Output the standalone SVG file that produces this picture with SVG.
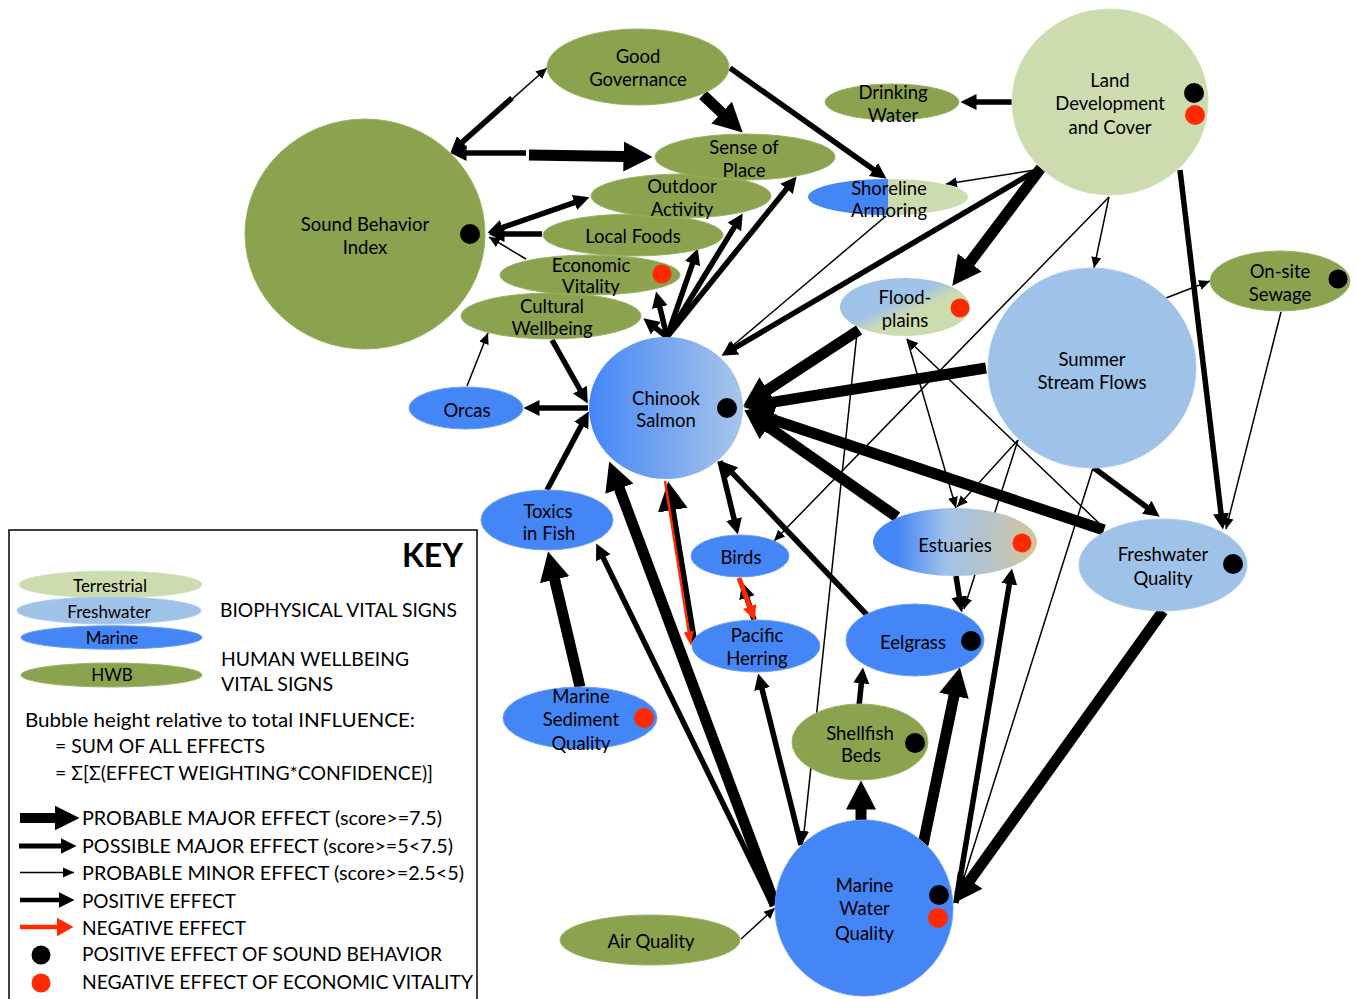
<svg xmlns="http://www.w3.org/2000/svg" width="1356" height="999" viewBox="0 0 1356 999">
<defs>
<style>
text { font-family: Lato, "Open Sans", "DejaVu Sans", sans-serif; fill: #000; }
.n { font-size: 18.5px; text-anchor: middle; }
.k { font-size: 19.5px; }
.kc { font-size: 17px; text-anchor: middle; }
.hwb { fill: #8ba24f; stroke: #9cb265; stroke-width: 1; }
.ter { fill: #cddcaf; stroke: #d6e2bd; stroke-width: 1; }
.fw { fill: #9fc2e8; stroke: #afcdee; stroke-width: 1; }
.mar { fill: #4586f7; stroke: #6c9ef0; stroke-width: 1; }
.db { fill: #000; }
.dr { fill: #ff2a00; }
.tn { stroke: #000; stroke-width: 1.5; fill: none; marker-end: url(#hT); }
.md { stroke: #000; stroke-width: 5.5; fill: none; marker-end: url(#hM); }
.mj { stroke: #000; stroke-width: 11; fill: none; marker-end: url(#hJ); }
</style>
<marker id="hT" markerUnits="userSpaceOnUse" markerWidth="12" markerHeight="12" viewBox="0 -6 12 12" refX="11" refY="0" orient="auto"><path d="M0,-5 L11,0 L0,5 z" fill="#000"/></marker>
<marker id="hM" markerUnits="userSpaceOnUse" markerWidth="17" markerHeight="18" viewBox="0 -9 17 18" refX="0.5" refY="0" orient="auto-start-reverse"><path d="M0,-8 L16,0 L0,8 z" fill="#000"/></marker>
<marker id="hJ" markerUnits="userSpaceOnUse" markerWidth="30" markerHeight="32" viewBox="0 -16 30 32" refX="0.5" refY="0" orient="auto"><path d="M0,-15 L29,0 L0,15 z" fill="#000"/></marker>
<marker id="hK" markerUnits="userSpaceOnUse" markerWidth="26" markerHeight="26" viewBox="0 -13 26 26" refX="0.5" refY="0" orient="auto"><path d="M0,-12.5 L25,0 L0,12.5 z" fill="#000"/></marker>
<marker id="rS" markerUnits="userSpaceOnUse" markerWidth="15" markerHeight="12" viewBox="0 -6 15 12" refX="0.5" refY="0" orient="auto"><path d="M0,-5 L14,0 L0,5 z" fill="#ff2a00"/></marker>
<marker id="rM" markerUnits="userSpaceOnUse" markerWidth="16" markerHeight="16" viewBox="0 -8 16 16" refX="0.5" refY="0" orient="auto"><path d="M0,-7 L15,0 L0,7 z" fill="#ff2a00"/></marker>
<marker id="rL" markerUnits="userSpaceOnUse" markerWidth="18" markerHeight="20" viewBox="0 -10 18 20" refX="0.5" refY="0" orient="auto"><path d="M0,-9.5 L17,0 L0,9.5 z" fill="#ff2a00"/></marker>
<linearGradient id="gChinook" x1="0" y1="0" x2="1" y2="0">
<stop offset="0" stop-color="#4586f7"/><stop offset="1" stop-color="#a8c6ea"/>
</linearGradient>
<linearGradient id="gEst" x1="0" y1="0" x2="1" y2="0">
<stop offset="0.15" stop-color="#4586f7"/><stop offset="0.45" stop-color="#a2c2e8"/><stop offset="0.72" stop-color="#b8c3c8"/><stop offset="1" stop-color="#d6c59a"/>
</linearGradient>
<linearGradient id="gFlood" x1="0.25" y1="0.2" x2="0.8" y2="0.75">
<stop offset="0.35" stop-color="#9fc2e8"/><stop offset="0.65" stop-color="#cddcaf"/>
</linearGradient>
<linearGradient id="gShore" x1="0" y1="0" x2="1" y2="0">
<stop offset="0.5" stop-color="#4586f7"/><stop offset="0.5" stop-color="#cddcaf"/>
</linearGradient>
</defs>
<rect width="1356" height="999" fill="#fff"/>

<g id="connectors">
<path class="tn" d="M455,150 L547,68"/>
<path class="tn" d="M526,259 L489,237"/>
<path class="tn" d="M467,386 L488,333"/>
<path class="tn" d="M886,216 L724,353"/>
<path class="tn" d="M1035,170 L946,184"/>
<path class="tn" d="M1109,197 L1094,268"/>
<path class="tn" d="M1109,197 L774,541"/>
<path class="tn" d="M1166,298 L1210,281"/>
<path class="tn" d="M1281,312 L1226,529"/>
<path class="tn" d="M907,339 L956,508"/>
<path class="tn" d="M1102,526 L907,339"/>
<path class="tn" d="M1018,440 L957,507"/>
<path class="tn" d="M1018,440 L964,609"/>
<path class="tn" d="M857,333 L803,842"/>
<path class="tn" d="M1093,468 L956,903"/>
<path class="tn" d="M741,939 L775,908"/>

<path class="md" d="M512,98 L462,142.4"/>
<path class="md" d="M526,153 L466,153"/>
<path class="md" d="M730,68 L873.9,169.8"/>
<path class="md" d="M502.1,227.7 L574.9,202.3" marker-start="url(#hM)"/>
<path class="md" d="M542,234 L504,234"/>
<path class="md" d="M667,337 L655.5,327.9"/>
<path class="md" d="M667,337 L659.7,306.6"/>
<path class="md" d="M667,337 L692.7,263.1"/>
<path class="md" d="M667,337 L734.6,226.6"/>
<path class="md" d="M667,337 L786.9,188.5"/>
<path class="md" d="M552,340 L580.2,390"/>
<path class="md" d="M547,490 L581.5,425.1"/>
<path class="md" d="M588,408 L539,408"/>
<path class="md" d="M773,906 L603,557.4"/>
<path class="md" d="M720,461 L734.2,519.5"/>
<path class="md" d="M867,615 L732,472.6"/>
<path class="md" d="M754,620 L746.8,597.3"/>
<path class="md" d="M801,845 L761.9,688.5"/>
<path class="md" d="M1037,170 L734.8,347.9"/>
<path class="md" d="M1012,102 L976,102"/>
<path class="md" d="M1180,170 L1221.1,514.1"/>
<path class="md" d="M1094,468 L1147.2,507.5"/>
<path class="md" d="M859,706 L861.4,682.9"/>
<path class="md" d="M956,576 L959.4,597.2"/>
<path class="md" d="M956,903 L1009.4,583.8"/>

<path class="mj" d="M529,155 L624,156.5"/>
<path class="mj" d="M703,95 L722,113"/>
<path class="mj" d="M1041,168 L969.5,262.9"/>
<path class="mj" d="M859,330 L767.2,390.1"/>
<path class="mj" d="M986,368 L771.6,402.4"/>
<path class="mj" d="M897,517 L767.8,426.6"/>
<path class="mj" d="M1104,530 L771.5,419.2"/>
<path class="mj" d="M775,905 L619.2,488.2"/>
<path class="mj" d="M580,687 L554.6,579.2"/>
<path class="mj" d="M861,820 L861,809"/>
<path class="mj" d="M923,845 L954.1,695.4"/>
<path class="mj" d="M1163,611 L969.9,880.4"/>

<path d="M695,646 L672.7,509.6" stroke="#000" stroke-width="6" fill="none" marker-end="url(#hJ)"/>
<path d="M665,481 L688.8,632.2" stroke="#ff2a00" stroke-width="2.5" fill="none" marker-end="url(#rS)"/>
<path d="M739,578 L749.8,607" stroke="#ff2a00" stroke-width="5" fill="none" marker-end="url(#rM)"/>
</g>

<g id="sound-behavior-index"><ellipse class="hwb" cx="365" cy="234" rx="120" ry="115"/><text class="n" x="365" y="230.5">Sound Behavior</text><text class="n" x="365" y="253.5">Index</text><circle class="db" cx="470" cy="234" r="10"/></g>
<g id="good-governance"><ellipse class="hwb" cx="638" cy="67" rx="91" ry="38"/><text class="n" x="638" y="63">Good</text><text class="n" x="638" y="86">Governance</text></g>
<g id="cultural-wellbeing"><ellipse class="hwb" cx="551" cy="316" rx="90" ry="23"/><text class="n" x="552" y="312.5">Cultural</text><text class="n" x="552" y="334.5">Wellbeing</text></g>
<g id="economic-vitality"><ellipse class="hwb" cx="590" cy="275" rx="90" ry="20"/><text class="n" x="591" y="272">Economic</text><text class="n" x="591" y="293">Vitality</text><circle class="dr" cx="662" cy="274" r="9.5"/></g>
<g id="local-foods"><ellipse class="hwb" cx="633" cy="235" rx="90" ry="21"/><text class="n" x="633" y="242.5">Local Foods</text></g>
<g id="outdoor-activity"><ellipse class="hwb" cx="681" cy="196" rx="90" ry="22"/><text class="n" x="682" y="193">Outdoor</text><text class="n" x="682" y="216">Activity</text></g>
<g id="sense-of-place"><ellipse class="hwb" cx="745" cy="157" rx="90" ry="23"/><text class="n" x="744" y="154">Sense of</text><text class="n" x="744" y="176.5">Place</text></g>
<g id="drinking-water"><ellipse class="hwb" cx="892" cy="102" rx="67" ry="18"/><text class="n" x="893" y="98.5">Drinking</text><text class="n" x="893" y="121.5">Water</text></g>
<g id="land-development"><ellipse class="ter" cx="1110" cy="102" rx="98" ry="93"/><text class="n" x="1110" y="86.5">Land</text><text class="n" x="1110" y="109.5">Development</text><text class="n" x="1110" y="134">and Cover</text><circle class="db" cx="1194" cy="93" r="10"/><circle class="dr" cx="1195" cy="115" r="10"/></g>
<g id="shoreline-armoring"><ellipse cx="888" cy="197" rx="80" ry="18" fill="url(#gShore)"/><text class="n" x="889" y="194.5">Shoreline</text><text class="n" x="889" y="216.5">Armoring</text></g>
<g id="floodplains"><ellipse cx="905" cy="307" rx="65" ry="29" fill="url(#gFlood)"/><text class="n" x="905" y="304">Flood-</text><text class="n" x="905" y="326.5">plains</text><circle class="dr" cx="960" cy="308" r="9.5"/></g>
<g id="summer-stream-flows"><ellipse class="fw" cx="1092" cy="368" rx="104" ry="100"/><text class="n" x="1092" y="365.5">Summer</text><text class="n" x="1092" y="388.5">Stream Flows</text></g>
<g id="on-site-sewage"><ellipse class="hwb" cx="1280" cy="281" rx="70" ry="30"/><text class="n" x="1280" y="277.5">On-site</text><text class="n" x="1280" y="300.5">Sewage</text><circle class="db" cx="1338" cy="279" r="9.5"/></g>
<g id="chinook-salmon"><ellipse cx="666" cy="408" rx="77" ry="71" fill="url(#gChinook)"/><text class="n" x="666" y="404.5">Chinook</text><text class="n" x="666" y="427">Salmon</text><circle class="db" cx="727" cy="408" r="10"/></g>
<g id="orcas"><ellipse class="mar" cx="466" cy="408" rx="57" ry="21"/><text class="n" x="467" y="416.5">Orcas</text></g>
<g id="toxics-in-fish"><ellipse class="mar" cx="547" cy="520" rx="66" ry="30"/><text class="n" x="548" y="517.5">Toxics</text><text class="n" x="549" y="539.5">in Fish</text></g>
<g id="birds"><ellipse class="mar" cx="740" cy="556" rx="49" ry="21"/><text class="n" x="741" y="564">Birds</text></g>
<g id="pacific-herring"><ellipse class="mar" cx="756" cy="646" rx="64" ry="26"/><text class="n" x="757" y="641.5">Pacific</text><text class="n" x="757" y="665">Herring</text></g>
<g id="estuaries"><ellipse cx="955" cy="542" rx="82" ry="34" fill="url(#gEst)"/><text class="n" x="955" y="551.5">Estuaries</text><circle class="dr" cx="1022" cy="543" r="9.5"/></g>
<g id="freshwater-quality"><ellipse class="fw" cx="1163" cy="565" rx="84" ry="46"/><text class="n" x="1163" y="561">Freshwater</text><text class="n" x="1163" y="585">Quality</text><circle class="db" cx="1233" cy="564" r="10"/></g>
<g id="eelgrass"><ellipse class="mar" cx="915" cy="640" rx="69" ry="36"/><text class="n" x="913" y="648.5">Eelgrass</text><circle class="db" cx="971" cy="641" r="10"/></g>
<g id="shellfish-beds"><ellipse class="hwb" cx="860" cy="742" rx="68" ry="38"/><text class="n" x="860" y="739.5">Shellfish</text><text class="n" x="861" y="761.5">Beds</text><circle class="db" cx="915" cy="743" r="10"/></g>
<g id="marine-water-quality"><ellipse class="mar" cx="864" cy="908" rx="89" ry="88"/><text class="n" x="864.5" y="892">Marine</text><text class="n" x="864.5" y="915">Water</text><text class="n" x="864.5" y="940">Quality</text><circle class="db" cx="939" cy="895" r="10"/><circle class="dr" cx="938" cy="918" r="10"/></g>
<g id="marine-sediment-quality"><ellipse class="mar" cx="580" cy="718" rx="77" ry="31"/><text class="n" x="581" y="703">Marine</text><text class="n" x="581" y="726">Sediment</text><text class="n" x="581" y="749.5">Quality</text><circle class="dr" cx="644" cy="718" r="10"/></g>
<g id="air-quality"><ellipse class="hwb" cx="650" cy="940" rx="90" ry="25"/><text class="n" x="651" y="948">Air Quality</text></g>

<g id="key">
<rect x="9" y="530" width="468" height="480" fill="#fff" stroke="#000" stroke-width="1.5"/>
<text x="463" y="567" font-size="32" font-weight="bold" text-anchor="end">KEY</text>
<ellipse class="ter" cx="110.5" cy="584.5" rx="91.5" ry="13.5"/>
<text class="kc" x="110" y="592">Terrestrial</text>
<ellipse class="fw" cx="109" cy="610.5" rx="92" ry="13.5"/>
<text class="kc" x="109" y="618">Freshwater</text>
<ellipse class="mar" cx="111.5" cy="637.5" rx="90.5" ry="11.7"/>
<text class="kc" x="112" y="644">Marine</text>
<ellipse class="hwb" cx="111.5" cy="675" rx="90.5" ry="12"/>
<text class="kc" x="112" y="681">HWB</text>
<text class="k" x="220" y="617" textLength="237" lengthAdjust="spacingAndGlyphs">BIOPHYSICAL VITAL SIGNS</text>
<text class="k" x="221" y="666" textLength="188" lengthAdjust="spacingAndGlyphs">HUMAN WELLBEING</text>
<text class="k" x="221" y="691" textLength="112" lengthAdjust="spacingAndGlyphs">VITAL SIGNS</text>
<text class="k" x="25" y="727" textLength="390" lengthAdjust="spacingAndGlyphs">Bubble height relative to total INFLUENCE:</text>
<text class="k" x="55" y="753" textLength="210" lengthAdjust="spacingAndGlyphs">= SUM OF ALL EFFECTS</text>
<text class="k" x="55" y="780" textLength="378" lengthAdjust="spacingAndGlyphs">= Σ[Σ(EFFECT WEIGHTING*CONFIDENCE)]</text>
<path d="M20,818 L55,818" stroke="#000" stroke-width="10" fill="none" marker-end="url(#hK)"/>
<text class="k" x="82" y="825" textLength="360" lengthAdjust="spacingAndGlyphs">PROBABLE MAJOR EFFECT (score&gt;=7.5)</text>
<path d="M19,846 L61,846" stroke="#000" stroke-width="5" fill="none" marker-end="url(#hM)"/>
<text class="k" x="82" y="853" textLength="371" lengthAdjust="spacingAndGlyphs">POSSIBLE MAJOR EFFECT (score&gt;=5&lt;7.5)</text>
<path d="M20,872.5 L74,872.5" stroke="#000" stroke-width="1.5" fill="none" marker-end="url(#hT)"/>
<text class="k" x="82" y="880" textLength="382" lengthAdjust="spacingAndGlyphs">PROBABLE MINOR EFFECT (score&gt;=2.5&lt;5)</text>
<path d="M20,900 L59,900" stroke="#000" stroke-width="4.5" fill="none" marker-end="url(#hM)"/>
<text class="k" x="82" y="908" textLength="154" lengthAdjust="spacingAndGlyphs">POSITIVE EFFECT</text>
<path d="M20,927 L57,927" stroke="#ff2a00" stroke-width="4.5" fill="none" marker-end="url(#rL)"/>
<text class="k" x="82" y="935" textLength="164" lengthAdjust="spacingAndGlyphs">NEGATIVE EFFECT</text>
<circle class="db" cx="41" cy="955" r="9.5"/>
<text class="k" x="82" y="961" textLength="360" lengthAdjust="spacingAndGlyphs">POSITIVE EFFECT OF SOUND BEHAVIOR</text>
<circle class="dr" cx="41" cy="983" r="9.5"/>
<text class="k" x="82" y="989" textLength="391" lengthAdjust="spacingAndGlyphs">NEGATIVE EFFECT OF ECONOMIC VITALITY</text>
</g>
</svg>
